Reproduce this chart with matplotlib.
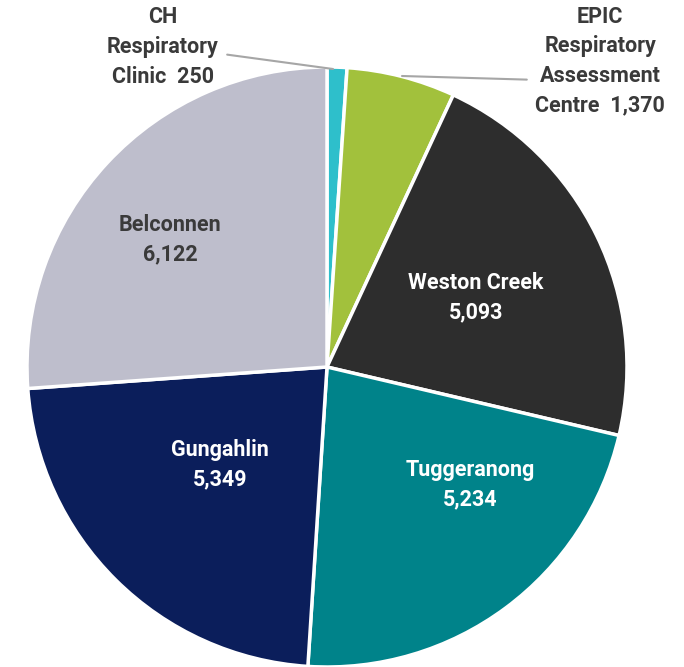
import matplotlib.pyplot as plt

plt.rcParams['font.family'] = ['Roboto', 'DejaVu Sans']

# clinic visits, clockwise from 12 o'clock
clinics = ['CH\nRespiratory\nClinic', 'EPIC\nRespiratory\nAssessment\nCentre',
           'Weston Creek', 'Tuggeranong', 'Gungahlin', 'Belconnen']
visits = [250, 1370, 5093, 5234, 5349, 6122]
colors = ['#2EBFCB', '#A2C13C', '#2D2D2D', '#00838A', '#0B1E5B', '#BEBECC']
text_colors = ['#3A3A3A', '#3A3A3A', 'white', 'white', 'white', '#3A3A3A']

fig = plt.figure(figsize=(6.84, 6.67), dpi=100)
ax = fig.add_axes([27 / 684, 0, 600 / 684, 600 / 667])

wedges, _ = ax.pie(visits, colors=colors, startangle=90, counterclock=False,
                   wedgeprops=dict(edgecolor='white', linewidth=2.5))
ax.set_xlim(-1, 1)
ax.set_ylim(-1, 1)


def to_data(px, py):
    # pixel position in the picture -> pie data coords
    return (px - 327) / 300, (367 - py) / 300


# label spots (pixels)
inner_pos = {'Weston Creek': (476, 298), 'Tuggeranong': (470, 485),
             'Gungahlin': (220, 465), 'Belconnen': (170, 240)}

fs = 15.5
ls = 1.45
for name, val, tc in zip(clinics, visits, text_colors):
    if name in inner_pos:
        x, y = to_data(*inner_pos[name])
        ax.text(x, y, f'{name}\n{val:,}', ha='center', va='center', color=tc,
                fontsize=fs, fontweight='bold', linespacing=ls)

# outside labels with leader lines
ax.annotate(f'{clinics[0]}  {visits[0]:,}', xy=to_data(333, 69), xytext=to_data(163, 47),
            ha='center', va='center', color='#3A3A3A', fontsize=fs, fontweight='bold',
            linespacing=ls, annotation_clip=False,
            arrowprops=dict(arrowstyle='-', color='#A6A6A6', lw=1.5,
                            relpos=(1.0, 0.42), shrinkA=4, shrinkB=0))
ax.annotate(f'{clinics[1]}  {visits[1]:,}', xy=to_data(402, 76), xytext=to_data(600, 61),
            ha='center', va='center', color='#3A3A3A', fontsize=fs, fontweight='bold',
            linespacing=ls, annotation_clip=False,
            arrowprops=dict(arrowstyle='-', color='#A6A6A6', lw=1.5,
                            relpos=(0.0, 0.33), shrinkA=4, shrinkB=0))

fig.savefig('out.png', dpi=100)
